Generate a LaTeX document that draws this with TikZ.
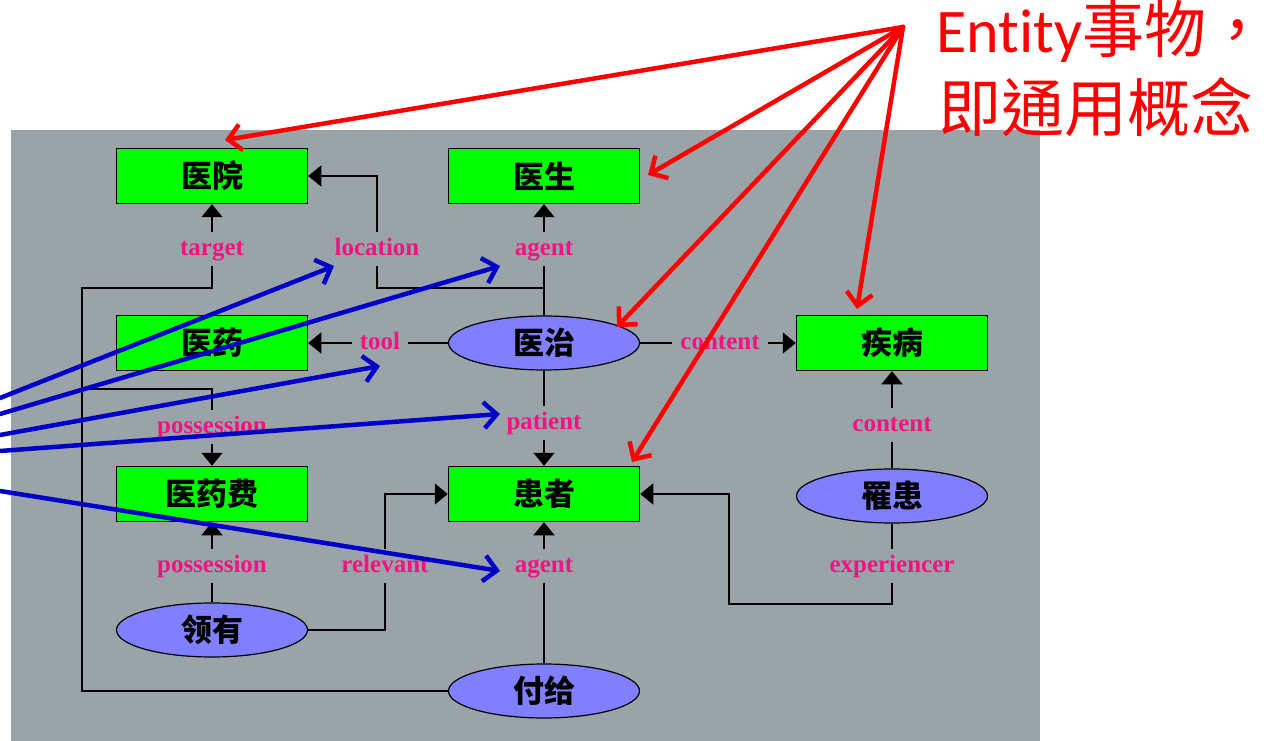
\documentclass[tikz,border=0pt]{standalone}
\usepackage{fontspec}
\setmainfont{Liberation Serif}
\newfontfamily\cjk{Noto Sans CJK SC}
\newfontfamily\cjktc{Noto Sans CJK TC}
\newfontfamily\latinsans{Carlito}[Ligatures={NoCommon}]
\usetikzlibrary{arrows.meta,shapes.geometric}
\definecolor{bggray}{RGB}{154,164,168}
\definecolor{boxgreen}{RGB}{0,255,0}
\definecolor{ellblue}{RGB}{128,128,255}
\definecolor{lblpink}{RGB}{240,20,130}
\definecolor{arrred}{RGB}{255,0,0}
\definecolor{arrblue}{RGB}{0,0,200}
\begin{document}
\begin{tikzpicture}[x=1pt,y=-1pt,
  conceptbox/.style={draw=black, line width=1.5pt, fill=boxgreen, minimum width=191pt, minimum height=55pt, inner sep=0pt, font=\cjk\bfseries\fontsize{31}{31}\selectfont},
  eventell/.style={ellipse, draw=black, line width=1.2pt, fill=ellblue, minimum width=191pt, minimum height=54pt, inner sep=0pt, font=\cjk\bfseries\fontsize{31}{31}\selectfont},
  rolelbl/.style={text=lblpink, font=\bfseries\fontsize{25}{25}\selectfont, text height=17pt, text depth=5pt, inner xsep=8pt, inner ysep=6pt},
  linkline/.style={draw=black, line width=1.5pt},
  linkarrow/.style={linkline, -{Triangle[width=21pt,length=13pt]}},
  redpointer/.style={draw=arrred, line width=4.5pt, line cap=round, -{Straight Barb[length=13pt,width=26pt]}},
  bluepointer/.style={draw=arrblue, line width=4.5pt, line cap=round, -{Straight Barb[length=13pt,width=26pt]}},
]
\useasboundingbox (0,0) rectangle (1270,741);
\fill[bggray] (11,130) rectangle (1040,741);

% concept boxes
\node[conceptbox] (yiyuan)  at (212,176) {医院};
\node[conceptbox] (yisheng) at (544,176) {医生};
\node[conceptbox] (yiyao)   at (212,343) {医药};
\node[conceptbox] (jibing)  at (892,343) {疾病};
\node[conceptbox] (yaofei)  at (212,494) {医药费};
\node[conceptbox] (huanzhe) at (544,494) {患者};
% event ellipses
\node[eventell] (yizhi)   at (544,343) {医治};
\node[eventell] (lihuan)  at (892,496) {罹患};
\node[eventell] (lingyou) at (212,630) {领有};
\node[eventell] (fugei)   at (544,691) {付给};
% role labels
\node[rolelbl] (target)   at (212,249) {target};
\node[rolelbl] (location) at (377,249) {location};
\node[rolelbl] (agenta)   at (544,249) {agent};
\node[rolelbl] (tool)     at (380,343) {tool};
\node[rolelbl] (contenta) at (720,343) {content};
\node[rolelbl] (possa)    at (212,427) {possession};
\node[rolelbl] (patient)  at (544,423) {patient};
\node[rolelbl] (contentb) at (892,425) {content};
\node[rolelbl] (possb)    at (212,566) {possession};
\node[rolelbl] (relevant) at (385,566) {relevant};
\node[rolelbl] (agentb)   at (544,566) {agent};
\node[rolelbl] (exper)    at (892,566) {experiencer};

% junction coordinates
\coordinate (tgtbend) at (82,288);
\coordinate (tgtbottom) at (82,691);
\coordinate (possjoin) at (82,389);
\coordinate (possbend) at (212,389);
\coordinate (yzjoin) at (544,288);
\coordinate (locbend) at (377,288);
\coordinate (loctop) at (377,176);
\coordinate (relbend) at (385,630);
\coordinate (reltop) at (385,494);
\coordinate (expbend) at (892,604);
\coordinate (expleft) at (729,604);
\coordinate (expup) at (729,494);

% 付给
\draw[linkarrow] (target.north) -- (yiyuan.south);
\draw[linkline] (target.south) |- (tgtbend) -- (tgtbottom) -- (fugei.west);
\draw[linkline] (possjoin) -- (possbend) -- (possa.north);
\draw[linkarrow] (possa.south) -- (yaofei.north);
\draw[linkline] (fugei.north) -- (agentb.south);
\draw[linkarrow] (agentb.north) -- (huanzhe.south);
% 医治
\draw[linkline] (yizhi.north) -- (agenta.south);
\draw[linkarrow] (agenta.north) -- (yisheng.south);
\draw[linkline] (yzjoin) -- (locbend) -- (location.south);
\draw[linkarrow] (location.north) -- (loctop) -- (yiyuan.east);
\draw[linkline] (yizhi.west) -- (tool.east);
\draw[linkarrow] (tool.west) -- (yiyao.east);
\draw[linkline] (yizhi.east) -- (contenta.west);
\draw[linkarrow] (contenta.east) -- (jibing.west);
\draw[linkline] (yizhi.south) -- (patient.north);
\draw[linkarrow] (patient.south) -- (huanzhe.north);
% 罹患
\draw[linkline] (lihuan.north) -- (contentb.south);
\draw[linkarrow] (contentb.north) -- (jibing.south);
\draw[linkline] (lihuan.south) -- (exper.north);
\draw[linkarrow] (exper.south) -- (expbend) -- (expleft) -- (expup) -- (huanzhe.east);
% 领有
\draw[linkline] (lingyou.north) -- (possb.south);
\draw[linkarrow] (possb.north) -- (yaofei.south);
\draw[linkline] (lingyou.east) -- (relbend) -- (relevant.south);
\draw[linkarrow] (relevant.north) -- (reltop) -- (huanzhe.west);

% blue pointers
\coordinate (ba) at (0,398);
\coordinate (bb) at (0,414);
\coordinate (bc) at (0,435);
\coordinate (bd) at (0,451);
\coordinate (be) at (0,491);
\coordinate (tba) at (334,266);
\coordinate (tbb) at (500,266);
\coordinate (tbc) at (380,366);
\coordinate (tbd) at (500,414);
\coordinate (tbe) at (500,571);
\draw[bluepointer] (ba) -- (tba);
\draw[bluepointer] (bb) -- (tbb);
\draw[bluepointer] (bc) -- (tbc);
\draw[bluepointer] (bd) -- (tbd);
\draw[bluepointer] (be) -- (tbe);

% title and red pointers
\node[anchor=base west, text=arrred, inner sep=0pt] (titlea) at (936,53) {\latinsans\fontsize{62}{62}\selectfont Entity\cjktc 事物，};
\node[anchor=base west, text=arrred, inner sep=0pt] (titleb) at (938,132) {\cjktc\fontsize{63}{63}\selectfont 即通用概念};
\coordinate (rorigin) at (903,27);
\coordinate (rta) at (225,140);
\coordinate (rtb) at (648,175);
\coordinate (rtc) at (617,327);
\coordinate (rtd) at (857,309);
\coordinate (rte) at (632,462);
\draw[redpointer] (rorigin) -- (rta);
\draw[redpointer] (rorigin) -- (rtb);
\draw[redpointer] (rorigin) -- (rtc);
\draw[redpointer] (rorigin) -- (rtd);
\draw[redpointer] (rorigin) -- (rte);
\end{tikzpicture}
\end{document}
